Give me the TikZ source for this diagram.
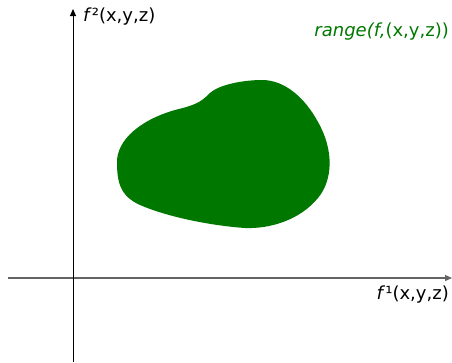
\documentclass[tikz,border=0pt]{standalone}
\usepackage{fontspec}
\setmainfont{DejaVu Sans}
\usepackage{xcolor}
\usetikzlibrary{positioning, arrows.meta}
\definecolor{rangegreen}{RGB}{0,120,0}
\definecolor{axisgray}{RGB}{100,100,100}

\begin{document}
\begin{tikzpicture}[
  x=1pt, y=-1pt,
  axis/.style={-{Triangle[length=7pt,width=6pt]}, line width=1pt},
  lbl/.style={font=\fontsize{18}{21}\selectfont, inner sep=0pt},
  blob/.style={fill=rangegreen, draw=none}
]
\useasboundingbox (0,0) rectangle (452,362);

\coordinate (xstart) at (8,278);
\coordinate (xend)   at (452,278);
\coordinate (ystart) at (73,362);
\coordinate (yend)   at (73,9);

\draw[axis, draw=axisgray, fill=black, line width=1.3pt] (xstart) -- (xend);
\draw[axis, draw=black] (ystart) -- (yend);

\node[lbl, anchor=west] (ylbl) at (83,17) {\textit{f}²(x,y,z)};
\node[lbl, anchor=east] (xlbl) at (449,295) {\textit{f}¹(x,y,z)};
\node[lbl, anchor=east, text=rangegreen] (rlbl) at (449,32) {\textit{range(f,}(x,y,z))};

% the range set
\fill[blob] (117,162)
  .. controls (117,140) and (140,120) .. (175,110)
  .. controls (195,105) and (200,103) .. (210,93)
  .. controls (220,84) and (245,80) .. (262,80)
  .. controls (285,80) and (305,98) .. (318,122)
  .. controls (334,150) and (333,180) .. (318,198)
  .. controls (300,220) and (270,229) .. (245,228)
  .. controls (215,226) and (170,218) .. (140,205)
  .. controls (120,196) and (117,182) .. cycle;

\end{tikzpicture}
\end{document}
